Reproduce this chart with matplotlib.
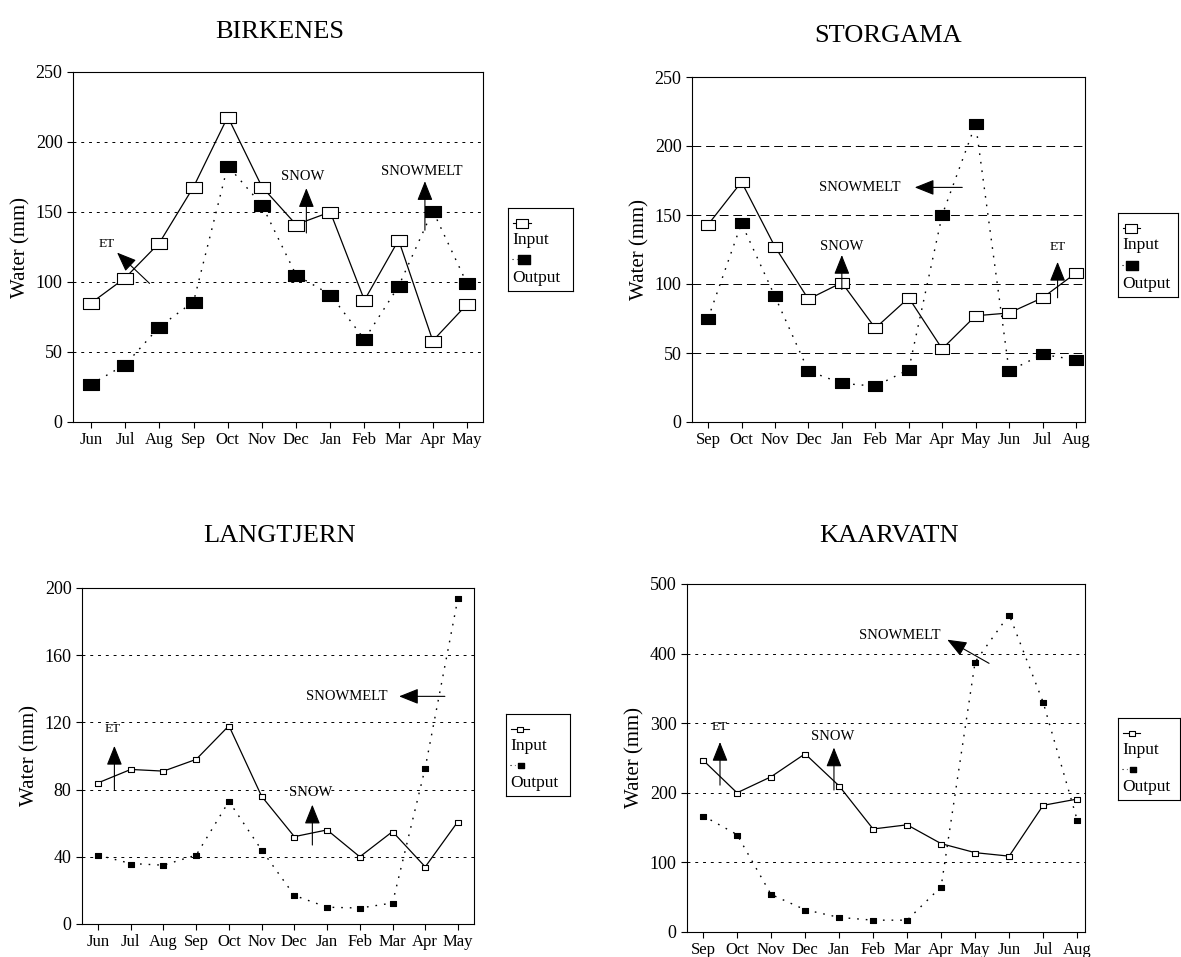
import matplotlib
matplotlib.use("Agg")
import matplotlib.pyplot as plt
from matplotlib.lines import Line2D

plt.rcParams['font.family'] = ['Liberation Serif', 'DejaVu Serif']

# ---------------- data ----------------
months_birk = ["Jun", "Jul", "Aug", "Sep", "Oct", "Nov", "Dec", "Jan", "Feb", "Mar", "Apr", "May"]
birk_input = [85, 103, 128, 168, 218, 168, 141, 150, 87, 130, 58, 84]
birk_output = [27, 41, 68, 86, 183, 155, 105, 91, 59, 97, 151, 99]

months_stor = ["Sep", "Oct", "Nov", "Dec", "Jan", "Feb", "Mar", "Apr", "May", "Jun", "Jul", "Aug"]
stor_input = [143, 174, 127, 89, 101, 68, 90, 53, 77, 79, 90, 108]
stor_output = [75, 144, 91, 37, 28, 26, 38, 150, 216, 37, 49, 45]

months_lang = ["Jun", "Jul", "Aug", "Sep", "Oct", "Nov", "Dec", "Jan", "Feb", "Mar", "Apr", "May"]
lang_input = [84, 92, 91, 98, 118, 76, 52, 56, 40, 55, 34, 61]
lang_output = [41, 36, 35, 41, 73, 44, 17, 10, 9.5, 12.5, 93, 194]

months_kaar = ["Sep", "Oct", "Nov", "Dec", "Jan", "Feb", "Mar", "Apr", "May", "Jun", "Jul", "Aug"]
kaar_input = [247, 200, 223, 256, 210, 148, 154, 127, 114, 109, 182, 191]
kaar_output = [167, 140, 54, 32, 21, 17, 17, 65, 388, 456, 330, 161]

W, H = 1181, 957
fig = plt.figure(figsize=(W / 100, H / 100), dpi=100)


def px_axes(l, t, r, b):
    return fig.add_axes([l / W, 1 - b / H, (r - l) / W, (b - t) / H])


RECT = [(-1, -0.72), (1, -0.72), (1, 0.72), (-1, 0.72), (-1, -0.72)]


def panel(ax, months, inp, out, ymax, ystep, grid_ls, ms, xlim):
    x = list(range(len(months)))
    for yv in range(ystep, ymax, ystep):
        ax.axhline(yv, color='black', lw=0.7, ls=grid_ls, zorder=1)
    ax.plot(x, out, color='black', lw=1.0, ls=(0, (1.2, 5)),
            marker=RECT, ms=ms, mfc='black', mec='black', mew=0.8, zorder=3)
    ax.plot(x, inp, color='black', lw=0.9, ls='-',
            marker=RECT, ms=ms, mfc='white', mec='black', mew=0.8, zorder=4)
    ax.set_xlim(*xlim)
    ax.set_ylim(0, ymax)
    ax.set_xticks(x)
    ax.set_xticklabels(months, fontsize=12)
    ax.set_yticks(range(0, ymax + 1, ystep))
    ax.tick_params(axis='y', labelsize=13, direction='out', length=4, width=0.8)
    ax.tick_params(axis='x', direction='out', length=4, width=0.8, pad=3)
    ax.set_ylabel("Water (mm)", fontsize=15)
    for s in ax.spines.values():
        s.set_linewidth(0.8)


def title(text, cx, cy):
    fig.text(cx / W, 1 - cy / H, text, fontsize=19, ha='center', va='center')


def arrow(ax, tail, tip):
    ax.annotate('', xy=tip, xytext=tail,
                arrowprops=dict(arrowstyle='-|>,head_length=0.8,head_width=0.32',
                                mutation_scale=15, lw=0.8, color='black',
                                shrinkA=0, shrinkB=0), zorder=5)


def legend_box(l, t, r, b, ms):
    lax = px_axes(l, t, r, b)
    lax.set_xlim(0, 1)
    lax.set_ylim(0, 1)
    lax.set_xticks([])
    lax.set_yticks([])
    for s in lax.spines.values():
        s.set_linewidth(0.8)
    lax.add_line(Line2D([0.08, 0.36], [0.82, 0.82], color='black', lw=0.8))
    lax.add_line(Line2D([0.22], [0.82], marker=RECT, ms=ms, mfc='white', mec='black', mew=0.8))
    lax.add_line(Line2D([0.06, 0.14], [0.38, 0.38], color='black', lw=0.8, ls=(0, (1, 3))))
    lax.add_line(Line2D([0.24], [0.38], marker=RECT, ms=ms, mfc='black', mec='black'))
    lax.text(0.07, 0.615, "Input", fontsize=12.5, va='center', ha='left')
    lax.text(0.07, 0.16, "Output", fontsize=12.5, va='center', ha='left')


# ---- BIRKENES ----
ax1 = px_axes(73, 72, 483, 422)
panel(ax1, months_birk, birk_input, birk_output, 250, 50, (0, (3, 5)), 11, (-0.53, 11.47))
title("BIRKENES", 280, 32)
ax1.text(0.47, 127, "ET", fontsize=9.5, ha='center', va='center')
arrow(ax1, (1.71, 99), (0.76, 121))
ax1.text(6.2, 175, "SNOW", fontsize=10.5, ha='center', va='center')
arrow(ax1, (6.3, 135), (6.3, 167))
ax1.text(9.68, 179, "SNOWMELT", fontsize=10.5, ha='center', va='center')
arrow(ax1, (9.77, 137), (9.77, 172))
legend_box(508, 208, 573, 291, 9)

# ---- STORGAMA ----
ax2 = px_axes(692, 77, 1085, 422)
panel(ax2, months_stor, stor_input, stor_output, 250, 50, (0, (9, 5)), 10, (-0.48, 11.27))
title("STORGAMA", 888, 36)
ax2.text(4.54, 170, "SNOWMELT", fontsize=10.5, ha='center', va='center')
arrow(ax2, (7.6, 170), (6.18, 170))
ax2.text(4.0, 127, "SNOW", fontsize=10.5, ha='center', va='center')
arrow(ax2, (4.0, 96), (4.0, 121))
ax2.text(10.45, 127, "ET", fontsize=9.5, ha='center', va='center')
arrow(ax2, (10.45, 90), (10.45, 116))
legend_box(1118, 213, 1178, 297, 9)

# ---- LANGTJERN ----
ax3 = px_axes(82, 588, 474, 924)
panel(ax3, months_lang, lang_input, lang_output, 200, 40, (0, (3, 5)), 5, (-0.49, 11.49))
title("LANGTJERN", 280, 536)
ax3.text(0.46, 116, "ET", fontsize=9.5, ha='center', va='center')
arrow(ax3, (0.5, 80), (0.5, 106))
ax3.text(6.5, 78, "SNOW", fontsize=10.5, ha='center', va='center')
arrow(ax3, (6.55, 47), (6.55, 71))
ax3.text(7.6, 135.5, "SNOWMELT", fontsize=10.5, ha='center', va='center')
arrow(ax3, (10.6, 135.5), (9.2, 135.5))
legend_box(506, 714, 570, 796, 5)

# ---- KAARVATN ----
ax4 = px_axes(687, 584, 1085, 932)
panel(ax4, months_kaar, kaar_input, kaar_output, 500, 100, (0, (3, 5)), 5, (-0.47, 11.23))
title("KAARVATN", 889, 536)
ax4.text(0.5, 295, "ET", fontsize=9.5, ha='center', va='center')
arrow(ax4, (0.5, 211), (0.5, 273))
ax4.text(3.8, 281, "SNOW", fontsize=10.5, ha='center', va='center')
arrow(ax4, (3.85, 204), (3.85, 265))
ax4.text(5.78, 426, "SNOWMELT", fontsize=10.5, ha='center', va='center')
arrow(ax4, (8.41, 386), (7.18, 420))
legend_box(1118, 718, 1180, 800, 5)

fig.savefig("out.png", dpi=100)
